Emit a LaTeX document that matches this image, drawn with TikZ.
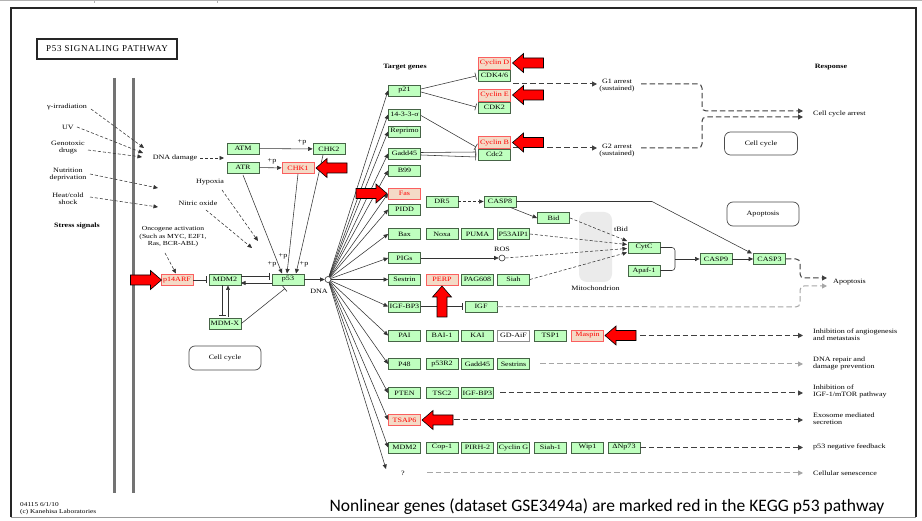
\documentclass[tikz,border=0pt]{standalone}
\usepackage{fontspec}
\setmainfont{Liberation Serif}
\newfontfamily\keggfont[FakeStretch=1.22]{Liberation Serif}
\newfontfamily\capfont{Carlito}
\usetikzlibrary{arrows.meta}
\definecolor{gfill}{RGB}{191,255,191}
\definecolor{gborder}{RGB}{70,100,70}
\definecolor{rfill}{RGB}{244,218,198}
\definecolor{rborder}{RGB}{250,95,95}
\tikzset{
 gene/.style={draw=gborder, fill=gfill, minimum width=32pt, minimum height=11pt, inner sep=0pt, font=\keggfont\fontsize{6.6}{7}\selectfont, line width=0.8pt},
 rgene/.style={gene, draw=rborder, fill=rfill, text=red},
 wgene/.style={gene, fill=white, draw=black!45},
 lbl/.style={font=\keggfont\fontsize{6.6}{7}\selectfont, inner sep=0pt, align=center},
 rlbl/.style={lbl, anchor=west, align=left},
 conn/.style={draw=black!80, line width=0.55pt},
 act/.style={conn, -{Triangle[length=4.5pt,width=4pt]}},
 dact/.style={act, dash pattern=on 3pt off 2pt},
 inh/.style={conn, -{Bar[width=7pt,line width=0.6pt]}},
 resp/.style={draw=black!75, line width=1pt, dash pattern=on 5.5pt off 3pt, -{Triangle[length=5pt,width=5pt]}},
 respg/.style={resp, draw=black!35},
 rbox/.style={draw=black!70, rounded corners=6pt, line width=0.7pt, minimum width=72pt, minimum height=23pt, font=\keggfont\fontsize{6.6}{7}\selectfont},
 redarr/.pic={\draw[fill=red, draw=black, line width=0.6pt, line join=miter] (0,0) -- (-11,-9.5) -- (-11,-5) -- (-31,-5) -- (-31,5) -- (-11,5) -- (-11,9.5) -- cycle;}
}
\begin{document}
\begin{tikzpicture}[x=1pt,y=-1pt]
\useasboundingbox (0,0) rectangle (922,521);
\fill[white] (0,0) rectangle (922,521);
% page decorations
\draw[black!30, line width=0.8pt] (0,0.5) -- (922,0.5);
\draw[black!30, line width=0.8pt] (94,0) -- (94,3) (217,0) -- (217,3);
\draw[black!85, line width=1.3pt] (11,517) -- (11,8) -- (916,8) -- (916,517);
\draw[black!40, line width=1pt] (11,517) -- (916,517);
% title
\node[draw=black!85, line width=1.8pt, minimum width=140pt, minimum height=20pt, inner sep=0pt, font=\fontsize{9}{9}\selectfont\addfontfeature{LetterSpace=8}] (title) at (107,49) {P53 SIGNALING PATHWAY};
% membrane
\draw[black!55, line width=3pt] (114.5,78) -- (114.5,493) (133.5,78) -- (133.5,493);
% stress signals
\node[lbl] (gam) at (67,107) {γ-irradiation};
\node[lbl] (uv) at (68,127) {UV};
\node[lbl] (geno) at (68,148) {Genotoxic\\drugs};
\node[lbl] (nutr) at (68,175) {Nutrition\\deprivation};
\node[lbl] (heat) at (68,199) {Heat/cold\\shock};
\node[lbl, font=\keggfont\fontsize{6.6}{7}\selectfont\bfseries] (stress) at (77,226) {Stress signals};
\node[lbl] (dnadmg) at (175,158) {DNA damage};
\node[lbl] (hypox) at (210,182) {Hypoxia};
\node[lbl] (nitric) at (198,203) {Nitric oxide};
\node[lbl, font=\keggfont\fontsize{6.2}{7.6}\selectfont] (oncog) at (173,237) {Oncogene activation\\(Such as MYC, E2F1,\\Ras, BCR-ABL)};
\coordinate (dd1) at (144,148);
\coordinate (dd2) at (143,153);
\coordinate (dd3) at (142,157);
\coordinate (nu) at (158,188);
\coordinate (he) at (158,207);
\coordinate (ddx) at (224,158);
\coordinate (hy) at (258,241);
\coordinate (no) at (252,248);
\draw[dact] (91,109) -- (dd1);
\draw[dact] (77,127) -- (dd2);
\draw[dact] (88,150) -- (dd3);
\draw[dact] (90,174) -- (nu);
\draw[dact] (90,197) -- (he);
\draw[dact] (200,158) -- (ddx);
\draw[dact] (222,190) -- (hy);
\draw[dact] (206,210) -- (no);
% upstream kinases
\node[gene] (atm) at (243,148.5) {ATM};
\node[gene] (atr) at (243,167.5) {ATR};
\node[gene] (chk2) at (329,149) {CHK2};
\node[rgene] (chk1) at (298,168) {CHK1};
\draw[act] (atm) -- (chk2);
\draw[act] (atr) -- (chk1);
\node[lbl] (p1) at (302,142) {+p};
\node[lbl] (p2) at (272,161) {+p};
% p53 module
\node[rgene] (p14) at (177,280) {p14ARF};
\node[gene] (mdm2) at (225,279.5) {MDM2};
\node[gene] (p53) at (288,279.5) {p53};
\node[gene] (mdmx) at (225,323.5) {MDM-X};
\draw[act] (243,175) -- (282,273.5);
\draw[act] (chk1.south) -- (287,273.5);
\draw[act] (323,155) -- (296,273.5);
\node[lbl] (p3) at (272,264) {+p};
\node[lbl] (p4) at (283,256) {+p};
\node[lbl] (p5) at (304,264) {+p};
\draw[dact] (165,253) -- (176,273.5);
\draw[inh] (p14.east) -- (207,280);
\draw[inh] (241,276.5) -- (270,276.5);
\draw[act] (272,283) -- (241,283);
\draw[inh] (222,285.5) -- (222,316);
\draw[act] (228,317.5) -- (228,285.5);
\draw[inh] (mdmx.east) -- (285,288.5);
\node[rbox, minimum width=72pt, minimum height=24pt] (cc1) at (225,358) {Cell cycle};
% DNA hub
\node[circle, draw=black!80, fill=white, line width=0.6pt, minimum size=6pt, inner sep=0pt] (dna) at (328,279.5) {};
\node[lbl] (dnal) at (319,291) {DNA};
\draw[act] (p53.east) -- (dna.west);
% target genes
\node[lbl, font=\keggfont\fontsize{6.6}{7}\selectfont\bfseries] (tg) at (405,67) {Target genes};
\node[gene] (p21) at (404.5,90.5) {p21};
\node[gene] (s1433) at (404.5,114.5) {14-3-3-σ};
\node[gene] (reprimo) at (404.5,131.5) {Reprimo};
\node[gene] (gadd45a) at (404.5,153.5) {Gadd45};
\node[gene] (b99) at (404.5,170.5) {B99};
\node[rgene] (fas) at (404.5,193.5) {Fas};
\node[gene] (pidd) at (404.5,209.5) {PIDD};
\node[gene] (dr5) at (442,201.5) {DR5};
\node[gene] (casp8) at (500,201.5) {CASP8};
\node[gene] (bid) at (553.5,218) {Bid};
\node[gene] (bax) at (404.5,234) {Bax};
\node[gene] (noxa) at (442,234) {Noxa};
\node[gene] (puma) at (477.5,234) {PUMA};
\node[gene] (p53aip) at (513.5,234) {P53AIP1};
\node[gene] (pigs) at (404.5,258) {PIGs};
\node[circle, draw=black!80, fill=white, line width=0.6pt, minimum size=6pt, inner sep=0pt] (ros) at (502,258) {};
\node[lbl] (rosl) at (502,249) {ROS};
\node[gene] (sestrin) at (404.5,279.5) {Sestrin};
\node[rgene] (perp) at (442,279.5) {PERP};
\node[gene] (pag) at (477.5,279.5) {PAG608};
\node[gene] (siah) at (513.5,279.5) {Siah};
\node[gene] (igfbp3) at (404.5,306.5) {IGF-BP3};
\node[gene] (igf) at (481,306.5) {IGF};
\node[gene] (pai) at (404.5,335.5) {PAI};
\node[gene] (bai) at (442,335.5) {BAI-1};
\node[gene] (kai) at (477.5,335.5) {KAI};
\node[wgene] (gdaif) at (513.5,335.5) {GD-AiF};
\node[gene] (tsp) at (550.5,335.5) {TSP1};
\node[rgene] (maspin) at (587.5,335.5) {Maspin};
\node[gene] (p48) at (404.5,364) {P48};
\node[gene] (p53r2) at (442,364) {p53R2};
\node[gene] (gadd45b) at (477.5,364) {Gadd45};
\node[gene] (sestrins) at (513.5,364) {Sestrins};
\node[gene] (pten) at (404.5,393) {PTEN};
\node[gene] (tsc2) at (442,393) {TSC2};
\node[gene] (igfbp3b) at (477.5,393) {IGF-BP3};
\node[rgene] (tsap6) at (404.5,420) {TSAP6};
\node[gene] (mdm2b) at (404.5,447.5) {MDM2};
\node[gene] (cop1) at (442,447.5) {Cop-1};
\node[gene] (pirh2) at (477.5,447.5) {PIRH-2};
\node[gene] (cycg) at (513.5,447.5) {Cyclin G};
\node[gene] (siah1) at (550.5,447.5) {Siah-1};
\node[gene] (wip1) at (587.5,447.5) {Wip1};
\node[gene] (dnp73) at (624,447.5) {ΔNp73};
\node[lbl] (qm) at (403,473) {?};
\coordinate (q) at (386,469);
\foreach \t in {p21,s1433,reprimo,gadd45a,b99,fas,pidd,bax,pigs,sestrin,igfbp3,pai,p48,pten,tsap6,mdm2b}
  \draw[act] (dna) -- (\t.west);
\draw[act] (dna) -- (q);
% cell cycle genes
\node[rgene, minimum height=12pt] (cycd) at (494.5,63) {Cyclin D};
\node[gene] (cdk46) at (494.5,75.5) {CDK4/6};
\node[rgene, minimum height=12pt] (cyce) at (494.5,95) {Cyclin E};
\node[gene] (cdk2) at (494.5,107.5) {CDK2};
\node[rgene, minimum height=12pt] (cycb) at (494.5,142.5) {Cyclin B};
\node[gene] (cdc2) at (494.5,154.5) {Cdc2};
\draw[inh] (421,89) -- (476,76);
\draw[inh] (421,92) -- (476,107);
\draw[inh] (421,115.5) -- (476,147);
\draw[inh] (421,152.5) -- (476,152);
\draw[inh] (421,155) -- (476,157);
\node[lbl] (g1) at (617,85.5) {G1 arrest\\(sustained)};
\node[lbl] (g2) at (617,151) {G2 arrest\\(sustained)};
\draw[resp] (513,84) -- (597,84);
\draw[resp] (513,148) -- (597,148);
\node[lbl, font=\keggfont\fontsize{6.6}{7}\selectfont\bfseries] (respt) at (831,67) {Response};
\node[rlbl] (cca) at (813,114) {Cell cycle arrest};
\draw[resp, rounded corners=4pt] (641,84) -- (702,84) -- (702,111) -- (803,111);
\draw[resp, rounded corners=4pt] (641,148) -- (702,148) -- (702,117) -- (803,117);
\node[rbox, minimum width=73pt] (cc2) at (761,143.5) {Cell cycle};
\node[rbox, minimum width=72pt, minimum height=24pt] (apo) at (763,214) {Apoptosis};
% apoptosis machinery
\fill[black!8, rounded corners=8pt] (579,212) rectangle (612,282);
\node[lbl] (mito) at (595.5,288.5) {Mitochondrion};
\node[lbl] (tbid) at (621,229) {tBid};
\node[gene] (cytc) at (644,247.5) {CytC};
\node[gene] (apaf) at (644,270.5) {Apaf-1};
\node[gene] (casp9) at (716,259) {CASP9};
\node[gene] (casp3) at (769.5,259) {CASP3};
\draw[dact] (dr5.east) -- (casp8.west);
\draw[act] (casp8.330) -- (bid.west);
\draw[act] (casp8.east) -- (652,201.5) -- (752,253.5);
\draw[dact] (bid.east) -- (627,241);
\draw[dact] (p53aip.east) -- (627,244.5);
\draw[act] (pigs.east) -- (ros.west);
\draw[dact] (ros.east) -- (627,248.5);
\draw[dact] (siah.east) -- (627,252.5);
\draw[inh] (igfbp3.east) -- (463,306.5);
\draw[conn, rounded corners=3pt] (cytc.east) -- (675,247.5) -- (675,270.5) -- (apaf.east);
\draw[act] (675,259) -- (casp9.west);
\draw[act] (casp9.east) -- (casp3.west);
\node[rlbl] (apot) at (833,282) {Apoptosis};
\draw[resp, rounded corners=4pt] (casp3.east) -- (800,259) -- (800,278) -- (827,278);
\draw[respg, rounded corners=4pt] (igf.east) -- (800,307) -- (800,286) -- (827,286);
% responses
\node[rlbl] (r1) at (813,334.5) {Inhibition of angiogenesis\\and metastasis};
\node[rlbl] (r2) at (813,363.5) {DNA repair and\\damage prevention};
\node[rlbl] (r3) at (813,391.5) {Inhibition of\\IGF-1/mTOR pathway};
\node[rlbl] (r4) at (813,418.5) {Exosome mediated\\secretion};
\node[rlbl] (r5) at (813,447) {p53 negative feedback};
\node[rlbl] (r6) at (813,473) {Cellular senescence};
\draw[resp] (640,335.5) -- (803,335.5);
\draw[respg] (540,364) -- (803,364);
\draw[resp] (500,393) -- (803,393);
\draw[resp] (454,420) -- (803,420);
\draw[resp] (dnp73.east) -- (803,447.5);
\draw[respg] (427,473) -- (803,473);
% red markers
\pic[rotate=180] at (316,168) {redarr};
\pic[rotate=180] at (512.5,63) {redarr};
\pic[rotate=180] at (512.5,95) {redarr};
\pic[rotate=180] at (512.5,142.5) {redarr};
\pic at (387,193.5) {redarr};
\pic at (161.5,280) {redarr};
\pic[rotate=90] at (442,286) {redarr};
\pic[rotate=180] at (605,335.5) {redarr};
\pic[rotate=180] at (422,420) {redarr};
% footer
\node[lbl, font=\keggfont\fontsize{6}{6.6}\selectfont, align=left, anchor=west] (foot) at (20,508.5) {04115 6/1/10\\(c) Kanehisa Laboratories};
\node[inner sep=0pt, font=\capfont\fontsize{17.5}{17.5}\selectfont] (cap) at (607,507) {Nonlinear genes (dataset GSE3494a) are marked red in the KEGG p53 pathway};
\end{tikzpicture}
\end{document}
